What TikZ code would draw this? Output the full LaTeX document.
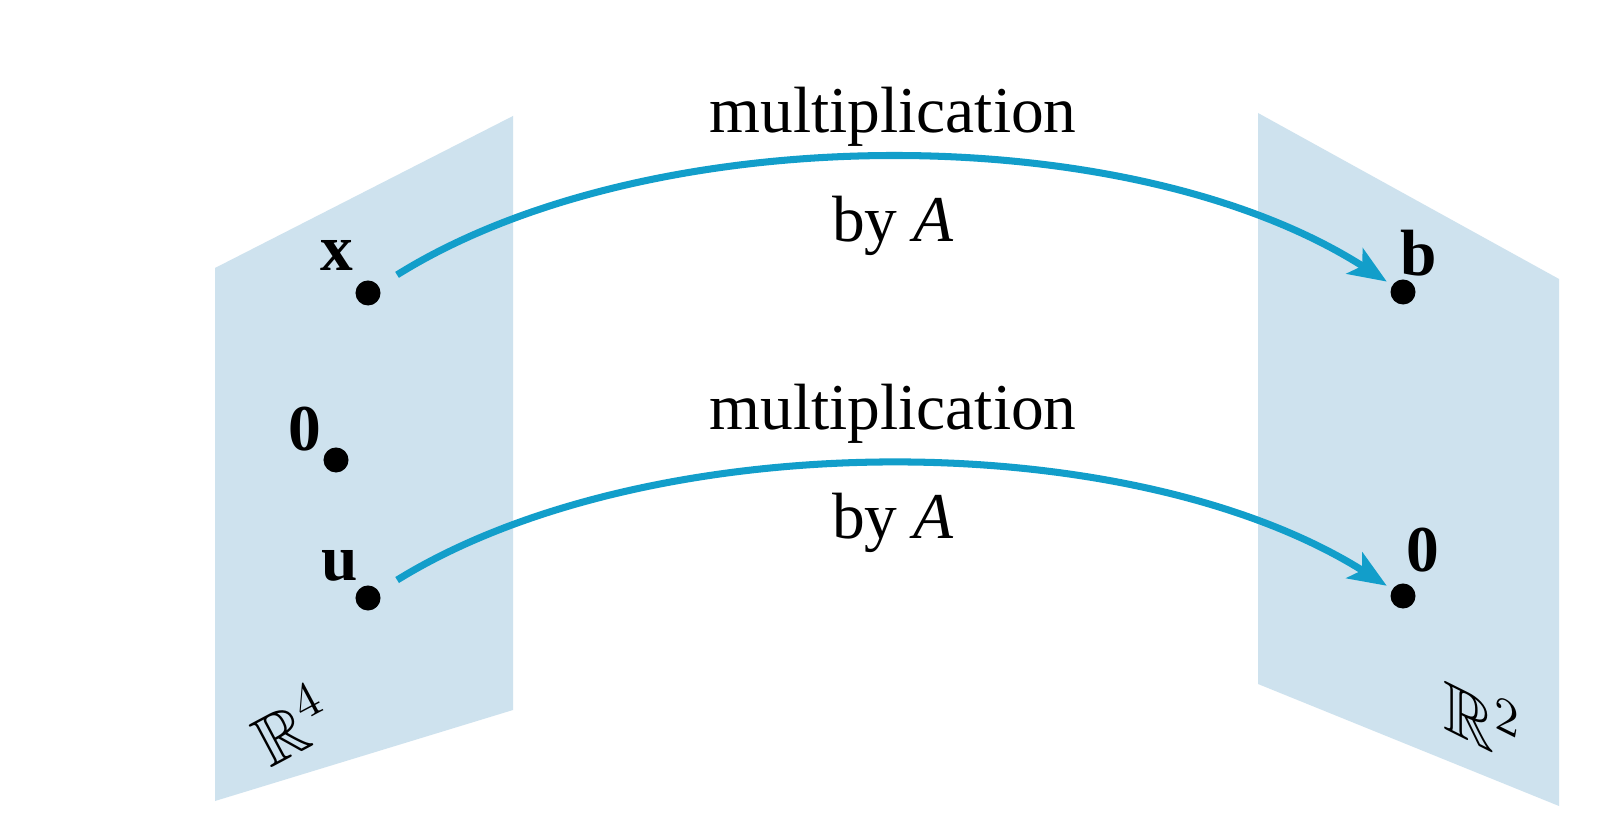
\documentclass[tikz,border=0pt]{standalone}
\usepackage{amsmath,amssymb}
\usepackage{fontspec}
\setmainfont{Liberation Serif}
\usetikzlibrary{arrows.meta}
\definecolor{mapblue}{RGB}{18,158,202}
\definecolor{planeblue}{RGB}{206,226,238}

\begin{document}
\begin{tikzpicture}[x=0.01cm, y=-0.01cm, every node/.style={font=\fontsize{18.6}{22}\selectfont}, pt/.style={circle, fill=black, minimum size=2.5mm, inner sep=0pt}, map/.style={line width=2pt, mapblue, -{Stealth[length=3.8mm, width=3mm, inset=0.9mm]}, shorten <=2.1mm, shorten >=0.6mm}, plane/.style={fill=planeblue}]
	\useasboundingbox[fill=white] (0,0) rectangle (1606,828);
	% domain R^4
	\begin{scope}
		\fill[plane] (215,268) -- (513,116) -- (513,710) -- (215,801) -- cycle;
		\node[pt] (x) at (368,293) {}; \node[pt] (zl) at (336,460) {}; \node[pt] (u) at (368,598) {};
		\node (xlab) at (337,255) {\textbf{x}}; \node (zlab) at (305,429) {\textbf{0}}; \node (ulab) at (340,566) {\textbf{u}};
		\node[rotate=28, inner sep=0pt, font=\fontsize{20}{24}\selectfont] (rfour) at (291,724) {$\mathbb{R}^4$};
	\end{scope}
	% codomain R^2
	\begin{scope}
		\fill[plane] (1258,113) -- (1559,279) -- (1559,806) -- (1258,684) -- cycle;
		\node[pt] (b) at (1403,292) {}; \node[pt] (zr) at (1403,596) {};
		\node (blab) at (1419,253) {\textbf{b}}; \node (zrlab) at (1423,550) {\textbf{0}};
		\node[yslant=-0.5, font=\fontsize{20}{24}\selectfont] (rtwo) at (1482,718) {$\mathbb{R}^2$};
	\end{scope}
	% the two maps
	\foreach \a/\b/\c/\h in {x/b/117/0, u/zr/424/297} {
		\draw[map] (\a) .. controls (650,\c) and (1130,\c) .. (\b);
		\node[anchor=base] (mult\a) at (893,133+\h) {multiplication};
		\node[anchor=base] (by\a) at (893,242+\h) {by \textit{A}};
	}
\end{tikzpicture}
\end{document}
